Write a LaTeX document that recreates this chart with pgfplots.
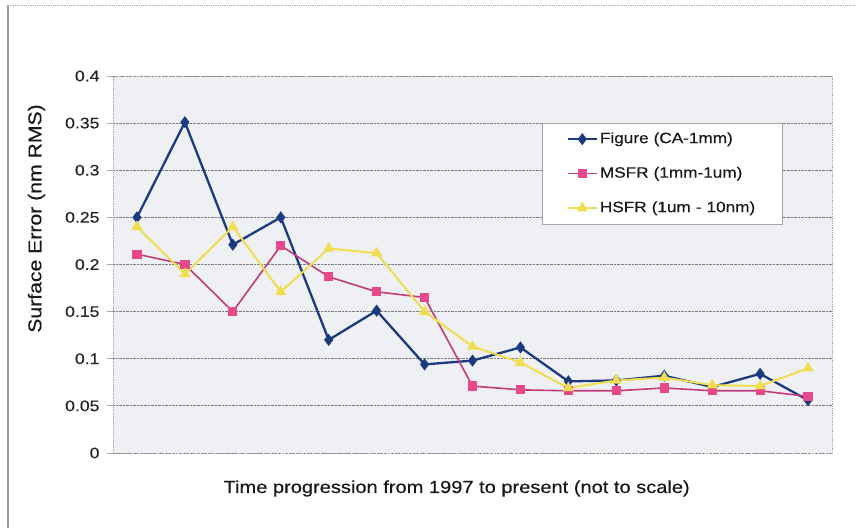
\documentclass[border=0pt]{standalone}
\usepackage{fontspec}
\setmainfont{Liberation Sans}[FakeStretch=1.15, FakeBold=0.4]
\usepackage{pgfplots}
\pgfplotsset{compat=1.18}
\definecolor{figblue}{HTML}{1C3A7E}
\definecolor{msfrline}{HTML}{C23C7A}
\definecolor{msfrmark}{HTML}{E8488C}
\definecolor{hsfr}{HTML}{F0DE50}
\definecolor{plotbg}{HTML}{EEF0F3}
\definecolor{gridc}{HTML}{7A7C80}
\begin{document}
\begin{tikzpicture}[x=1bp,y=1bp]
\path[use as bounding box] (0,0) rectangle (856,528);
\draw[gray!75, line width=1.2bp] (8,0) -- (8,523);
\draw[gray!60, densely dotted, line width=0.8bp] (8,523) -- (856,523);
\begin{axis}[
  at={(113bp,75bp)}, anchor=south west,
  scale only axis, width=719bp, height=377bp,
  xmin=-0.5, xmax=14.5, ymin=0, ymax=0.4,
  xtick=\empty,
  ytick={0,0.05,0.1,0.15,0.2,0.25,0.3,0.35,0.4},
  /pgf/number format/.cd, fixed, precision=2, assume math mode=true, /pgfplots/.cd,
  ymajorgrids,
  grid style={gridc, densely dotted, line width=0.9bp},
  axis line style={gray!70, densely dotted, line width=0.8bp},
  axis background/.style={fill=plotbg},
  tick align=outside, major tick length=6bp,
  tick style={gray!70, line width=0.8bp},
  ytick pos=left,
  yticklabel style={font=\fontsize{15.4}{18}\selectfont, xshift=-4bp, text=black!85},
  xlabel={Time progression from 1997 to present (not to scale)},
  xlabel style={at={(axis description cs:0.478,0)}, anchor=base, yshift=-40bp, font=\fontsize{17.5}{20}\selectfont, text=black!90},
  ylabel={Surface Error (nm RMS)},
  ylabel style={at={(axis description cs:-0.1064,0.622)}, anchor=center, font=\fontsize{18.5}{20}\selectfont, text=black!90},
  legend style={at={(axis description cs:0.597,0.876)}, anchor=north west,
    draw=gray!70, fill=white, line width=0.8bp,
    font=\fontsize{15}{18}\selectfont, text=black!90,
    inner xsep=12bp, inner ysep=7bp,
    nodes={text height=11bp, text depth=3bp, inner sep=2bp, text width=168bp},
    row sep=16.5bp},
  legend cell align=left,
  legend image code/.code={\path (0bp,0bp); \draw[mark repeat=2,mark phase=2] plot coordinates {(12bp,0bp) (26.5bp,0bp) (41bp,0bp)};},
]
\addplot[figblue, line width=2.3bp, mark=diamond*, mark size=4.2bp, mark options={solid, fill=figblue}] coordinates {
(0,0.250) (1,0.351) (2,0.221) (3,0.250) (4,0.120) (5,0.151) (6,0.094) (7,0.098) (8,0.112) (9,0.076) (10,0.077) (11,0.082) (12,0.070) (13,0.084) (14,0.056)};
\addlegendentry{Figure (CA-1mm)}
\addplot[msfrline, line width=1.6bp, mark=square*, mark size=3.8bp, mark options={solid, fill=msfrmark, draw=msfrmark}] coordinates {
(0,0.211) (1,0.200) (2,0.150) (3,0.220) (4,0.187) (5,0.171) (6,0.165) (7,0.071) (8,0.067) (9,0.066) (10,0.066) (11,0.069) (12,0.066) (13,0.066) (14,0.060)};
\addlegendentry{MSFR (1mm-1um)}
\addplot[hsfr, line width=2bp, mark=triangle*, mark size=4.5bp, mark options={solid, fill=hsfr}] coordinates {
(0,0.240) (1,0.190) (2,0.240) (3,0.171) (4,0.217) (5,0.212) (6,0.150) (7,0.113) (8,0.096) (9,0.069) (10,0.077) (11,0.080) (12,0.072) (13,0.071) (14,0.090)};
\addlegendentry{HSFR (1um - 10nm)}
\end{axis}
\end{tikzpicture}
\end{document}
